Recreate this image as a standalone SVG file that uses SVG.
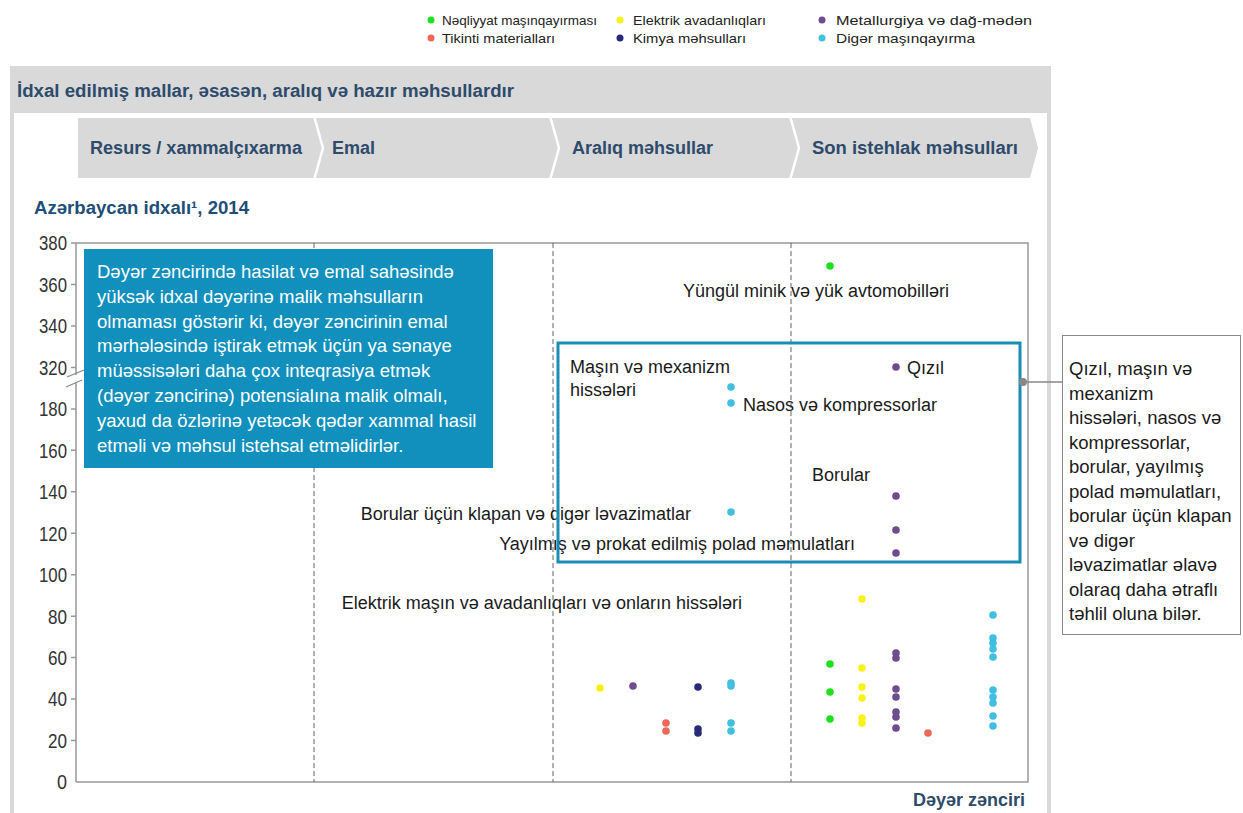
<svg xmlns="http://www.w3.org/2000/svg" width="1243" height="813" viewBox="0 0 1243 813">
<style>
text{font-family:"Liberation Sans",Arial,sans-serif}
.lg{font-size:13.5px;fill:#222}
.hd{font-size:18px;font-weight:bold;fill:#2e4b6b}
.tk{font-size:20px;fill:#333;text-anchor:end}
.lb{font-size:18px;fill:#1a1a1a}
.bx{font-size:18.5px;fill:#fff}
.nt{font-size:18.5px;fill:#1a1a1a}
.g{fill:#1ee01e}.y{fill:#f7f21a}.p{fill:#6e4c8e}.s{fill:#f0675a}.n{fill:#262a78}.c{fill:#41bfe0}
</style>
<rect width="1243" height="813" fill="#fff"/>
<g id="legend">
<circle class="g" cx="431" cy="20" r="3.5"/><text class="lg" x="442" y="25" textLength="155" lengthAdjust="spacingAndGlyphs">Nəqliyyat maşınqayırması</text>
<circle class="s" cx="431" cy="38" r="3.5"/><text class="lg" x="442" y="43" textLength="113" lengthAdjust="spacingAndGlyphs">Tikinti materialları</text>
<circle class="y" cx="620" cy="20" r="3.5"/><text class="lg" x="633" y="25" textLength="133" lengthAdjust="spacingAndGlyphs">Elektrik avadanlıqları</text>
<circle class="n" cx="620" cy="38" r="3.5"/><text class="lg" x="633" y="43" textLength="113" lengthAdjust="spacingAndGlyphs">Kimya  məhsulları</text>
<circle class="p" cx="822" cy="20" r="3.5"/><text class="lg" x="836" y="25" textLength="196" lengthAdjust="spacingAndGlyphs">Metallurgiya və dağ-mədən</text>
<circle class="c" cx="822" cy="38" r="3.5"/><text class="lg" x="836" y="43" textLength="139" lengthAdjust="spacingAndGlyphs">Digər maşınqayırma</text>
</g>
<g id="panel">
<rect x="10" y="66" width="1041" height="47" fill="#d9d9d9"/>
<rect x="10" y="113" width="4" height="700" fill="#d9d9d9"/>
<rect x="1047" y="113" width="4" height="700" fill="#d9d9d9"/>
<text class="hd" x="17" y="97" textLength="497" lengthAdjust="spacingAndGlyphs">İdxal edilmiş mallar, əsasən, aralıq və hazır məhsullardır</text>
</g>
<g id="chevrons">
<polygon points="78,118 1030,118 1038,148 1030,178 78,178" fill="#d9d9d9"/>
<g fill="none" stroke="#fff" stroke-width="2.5">
<polyline points="314,116 323,148 314,180"/>
<polyline points="550,116 559,148 550,180"/>
<polyline points="790,116 799,148 790,180"/>
</g>
<text class="hd" x="90" y="154" textLength="212" lengthAdjust="spacingAndGlyphs">Resurs / xammalçıxarma</text>
<text class="hd" x="332" y="154">Emal</text>
<text class="hd" x="572" y="154">Aralıq məhsullar</text>
<text class="hd" x="812" y="154" textLength="206" lengthAdjust="spacingAndGlyphs">Son istehlak məhsulları</text>
</g>
<text x="34" y="214" font-size="17.5" font-weight="bold" fill="#1f4e79" textLength="215" lengthAdjust="spacingAndGlyphs">Azərbaycan idxalı¹, 2014</text>
<g id="axes" stroke="#999" stroke-width="1.5" fill="none">
<path d="M76,243 H1028 V782 H76"/>
<path d="M76,243 V375 M76,383 V782"/>
<path d="M71,243 H76 M71,284.5 H76 M71,326 H76 M71,367.4 H76 M71,408.9 H76 M71,450.3 H76 M71,491.8 H76 M71,533.2 H76 M71,574.7 H76 M71,616.2 H76 M71,657.6 H76 M71,699.1 H76 M71,740.5 H76"/>
<path d="M67,377 L84,370 M66,387 L82,380" stroke="#888" stroke-width="1.2"/>
</g>
<g id="ticks">
<text class="tk" x="67" y="250" textLength="28" lengthAdjust="spacingAndGlyphs">380</text>
<text class="tk" x="67" y="291.5" textLength="28" lengthAdjust="spacingAndGlyphs">360</text>
<text class="tk" x="67" y="333" textLength="28" lengthAdjust="spacingAndGlyphs">340</text>
<text class="tk" x="67" y="374.5" textLength="28" lengthAdjust="spacingAndGlyphs">320</text>
<text class="tk" x="67" y="416" textLength="28" lengthAdjust="spacingAndGlyphs">180</text>
<text class="tk" x="67" y="457.5" textLength="28" lengthAdjust="spacingAndGlyphs">160</text>
<text class="tk" x="67" y="499" textLength="28" lengthAdjust="spacingAndGlyphs">140</text>
<text class="tk" x="67" y="540.5" textLength="28" lengthAdjust="spacingAndGlyphs">120</text>
<text class="tk" x="67" y="582" textLength="28" lengthAdjust="spacingAndGlyphs">100</text>
<text class="tk" x="67" y="623.5" textLength="19" lengthAdjust="spacingAndGlyphs">80</text>
<text class="tk" x="67" y="664.5" textLength="19" lengthAdjust="spacingAndGlyphs">60</text>
<text class="tk" x="67" y="706" textLength="19" lengthAdjust="spacingAndGlyphs">40</text>
<text class="tk" x="67" y="747.5" textLength="19" lengthAdjust="spacingAndGlyphs">20</text>
<text class="tk" x="67" y="789" textLength="10" lengthAdjust="spacingAndGlyphs">0</text>
</g>
<g id="dividers" stroke="#666" stroke-width="1" stroke-dasharray="5,3">
<line x1="314" y1="243" x2="314" y2="782"/>
<line x1="553" y1="243" x2="553" y2="782"/>
<line x1="791" y1="243" x2="791" y2="782"/>
</g>
<g id="callout">
<rect x="84" y="249" width="409" height="219" fill="#1190bd"/>
<text class="bx" x="97" y="278">Dəyər zəncirində hasilat və emal sahəsində</text>
<text class="bx" x="97" y="302.8">yüksək idxal dəyərinə malik məhsulların</text>
<text class="bx" x="97" y="327.6">olmaması göstərir ki, dəyər zəncirinin emal</text>
<text class="bx" x="97" y="352.4">mərhələsində iştirak etmək üçün ya sənaye</text>
<text class="bx" x="97" y="377.2">müəssisələri daha çox inteqrasiya etmək</text>
<text class="bx" x="97" y="402">(dəyər zəncirinə) potensialına malik olmalı,</text>
<text class="bx" x="97" y="426.8">yaxud da özlərinə yetəcək qədər xammal hasil</text>
<text class="bx" x="97" y="451.6">etməli və məhsul istehsal etməlidirlər.</text>
</g>
<g id="labels">
<text class="lb" x="683" y="297">Yüngül minik və yük avtomobilləri</text>
<text class="lb" x="570" y="373">Maşın və mexanizm</text>
<text class="lb" x="570" y="396">hissələri</text>
<text class="lb" x="907" y="374">Qızıl</text>
<text class="lb" x="743" y="411">Nasos və kompressorlar</text>
<text class="lb" x="812" y="481">Borular</text>
<text class="lb" x="691" y="520" text-anchor="end">Borular üçün klapan və digər ləvazimatlar</text>
<text class="lb" x="855" y="550" text-anchor="end">Yayılmış və prokat edilmiş polad məmulatları</text>
<text class="lb" x="742" y="609" text-anchor="end">Elektrik maşın və avadanlıqları və onların hissələri</text>
</g>
<g id="points">
<circle class="g" cx="830" cy="266" r="3.8"/>
<circle class="c" cx="731" cy="387" r="3.8"/><circle class="c" cx="731" cy="403" r="3.8"/>
<circle class="p" cx="896" cy="367" r="3.8"/>
<circle class="p" cx="896" cy="496" r="3.8"/><circle class="p" cx="896" cy="530" r="3.8"/><circle class="p" cx="896" cy="553" r="3.8"/>
<circle class="c" cx="731" cy="512" r="3.8"/>
<circle class="y" cx="600" cy="688" r="3.8"/>
<circle class="p" cx="633" cy="686" r="3.8"/>
<circle class="s" cx="666" cy="723" r="3.8"/><circle class="s" cx="666" cy="731" r="3.8"/>
<circle class="n" cx="698" cy="687" r="3.8"/><circle class="n" cx="698" cy="729" r="3.8"/><circle class="n" cx="698" cy="733" r="3.8"/>
<circle class="c" cx="731" cy="683" r="3.8"/><circle class="c" cx="731" cy="686" r="3.8"/><circle class="c" cx="731" cy="723" r="3.8"/><circle class="c" cx="731" cy="731" r="3.8"/>
<circle class="g" cx="830" cy="664" r="3.8"/><circle class="g" cx="830" cy="692" r="3.8"/><circle class="g" cx="830" cy="719" r="3.8"/>
<circle class="y" cx="862" cy="599" r="3.8"/><circle class="y" cx="862" cy="668" r="3.8"/><circle class="y" cx="862" cy="687" r="3.8"/><circle class="y" cx="862" cy="698" r="3.8"/><circle class="y" cx="862" cy="718" r="3.8"/><circle class="y" cx="862" cy="723" r="3.8"/>
<circle class="p" cx="896" cy="653" r="3.8"/><circle class="p" cx="896" cy="658" r="3.8"/><circle class="p" cx="896" cy="689" r="3.8"/><circle class="p" cx="896" cy="697" r="3.8"/><circle class="p" cx="896" cy="712" r="3.8"/><circle class="p" cx="896" cy="717" r="3.8"/><circle class="p" cx="896" cy="728" r="3.8"/>
<circle class="s" cx="928" cy="733" r="3.8"/>
<circle class="c" cx="993" cy="615" r="3.8"/><circle class="c" cx="993" cy="638" r="3.8"/><circle class="c" cx="993" cy="643" r="3.8"/><circle class="c" cx="993" cy="649" r="3.8"/><circle class="c" cx="993" cy="657" r="3.8"/><circle class="c" cx="993" cy="690" r="3.8"/><circle class="c" cx="993" cy="697" r="3.8"/><circle class="c" cx="993" cy="703" r="3.8"/><circle class="c" cx="993" cy="716" r="3.8"/><circle class="c" cx="993" cy="726" r="3.8"/>
</g>
<g id="highlight">
<rect x="558" y="343" width="462" height="219" fill="none" stroke="#1a8db5" stroke-width="3"/>
</g>
<g id="connectors">
<line x1="1023" y1="382" x2="1062" y2="382" stroke="#888" stroke-width="1.5"/>
<circle cx="1023" cy="382" r="4" fill="#888"/>
</g>
<g id="note">
<rect x="1062.5" y="335.5" width="178" height="299" fill="#fff" stroke="#888" stroke-width="1"/>
<text class="nt" x="1069" y="375">Qızıl, maşın və</text>
<text class="nt" x="1069" y="399.5">mexanizm</text>
<text class="nt" x="1069" y="424">hissələri, nasos və</text>
<text class="nt" x="1069" y="448.5">kompressorlar,</text>
<text class="nt" x="1069" y="473">borular, yayılmış</text>
<text class="nt" x="1069" y="497.5">polad məmulatları,</text>
<text class="nt" x="1069" y="522">borular üçün klapan</text>
<text class="nt" x="1069" y="546.5">və digər</text>
<text class="nt" x="1069" y="571">ləvazimatlar əlavə</text>
<text class="nt" x="1069" y="595.5">olaraq daha ətraflı</text>
<text class="nt" x="1069" y="620">təhlil oluna bilər.</text>
</g>
<text x="1025" y="806" font-size="18" font-weight="bold" fill="#2e4b6b" text-anchor="end">Dəyər zənciri</text>
</svg>
